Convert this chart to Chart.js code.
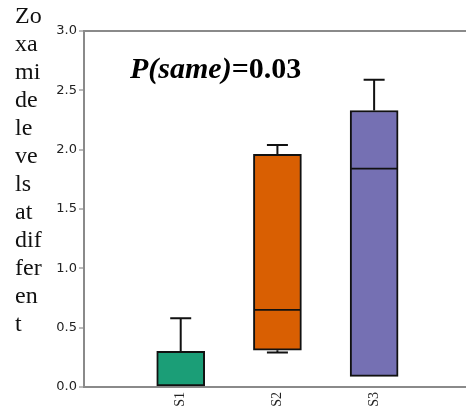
<!DOCTYPE html>
<html>
<head>
<meta charset="utf-8">
<script src="https://cdn.jsdelivr.net/npm/chart.js@4/dist/chart.umd.min.js"></script>
<style>
    html, body { margin: 0; padding: 0; background: #fff; }
    #wrap { position: relative; width: 466px; height: 410px; }
    #yLabel {
        position: absolute; left: 15px; top: 1px;
        font-family: "Liberation Serif", serif; font-size: 24px; line-height: 28px; color: #111;
    }
    #pTitle {
        position: absolute; left: 130px; top: 53px; white-space: nowrap;
        font-family: "Liberation Serif", serif; font-size: 30px; line-height: 30px; font-weight: bold; color: #000;
    }
</style>
</head>
<body>
<div id="wrap">
    <canvas id="boxChart" width="466" height="410"></canvas>
    <div id="yLabel"></div>
    <div id="pTitle"><i>P(same)</i>=0.03</div>
</div>
<script>
// box plot values
var categories = ["S1", "S2", "S3"];
var positions = [1, 2, 3];
var whiskerLow = [0.00, 0.29, 0.09];
var q1 = [0.00, 0.31, 0.09];
var median = [0.00, 0.65, 1.84];
var q3 = [0.30, 1.96, 2.33];
var whiskerHigh = [0.58, 2.04, 2.59];
var boxColors = ["#1b9e77", "#d95f02", "#7570b3"];
var yTicks = [0, 0.5, 1.0, 1.5, 2.0, 2.5, 3.0];
var yLabelLines = ["Zo", "xa", "mi", "de", "le", "ve", "ls", "at", "dif", "fer", "en", "t"];

document.getElementById("yLabel").innerHTML = yLabelLines.join("<br>");

var boxData = [];
for (var i = 0; i < categories.length; i++) {
    boxData.push({ x: positions[i], y: [q1[i], q3[i]] });
}

var whiskerPlugin = {
    id: "whiskers",
    afterDatasetsDraw: function(chart) {
        var ctx = chart.ctx;
        var xs = chart.scales.x;
        var ys = chart.scales.y;
        ctx.save();
        ctx.strokeStyle = "#111";
        for (var i = 0; i < categories.length; i++) {
            var cx = xs.getPixelForValue(positions[i]);
            var half = 23;
            var cap = 10.5;
            // median (skipped when it sits on the box edge)
            if (median[i] > q1[i] && median[i] < q3[i]) {
                ctx.lineWidth = 1.8;
                ctx.beginPath();
                ctx.moveTo(cx - half, ys.getPixelForValue(median[i]));
                ctx.lineTo(cx + half, ys.getPixelForValue(median[i]));
                ctx.stroke();
            }
            // upper whisker
            if (whiskerHigh[i] > q3[i]) {
                ctx.lineWidth = 2;
                ctx.beginPath();
                ctx.moveTo(cx, ys.getPixelForValue(q3[i]));
                ctx.lineTo(cx, ys.getPixelForValue(whiskerHigh[i]));
                ctx.moveTo(cx - cap, ys.getPixelForValue(whiskerHigh[i]));
                ctx.lineTo(cx + cap, ys.getPixelForValue(whiskerHigh[i]));
                ctx.stroke();
            }
            // lower whisker
            if (whiskerLow[i] < q1[i]) {
                ctx.lineWidth = 2;
                ctx.beginPath();
                ctx.moveTo(cx, ys.getPixelForValue(q1[i]));
                ctx.lineTo(cx, ys.getPixelForValue(whiskerLow[i]));
                ctx.moveTo(cx - cap, ys.getPixelForValue(whiskerLow[i]));
                ctx.lineTo(cx + cap, ys.getPixelForValue(whiskerLow[i]));
                ctx.stroke();
            }
        }
        ctx.restore();
    }
};

new Chart(document.getElementById("boxChart").getContext("2d"), {
    type: "bar",
    data: {
        datasets: [{
            label: "Zoxamide",
            data: boxData,
            backgroundColor: boxColors,
            borderColor: "#111",
            borderWidth: 2,
            borderSkipped: false,
            barThickness: 48
        }]
    },
    options: {
        responsive: false,
        animation: false,
        layout: { padding: { top: 31, left: 0, right: 0, bottom: 0 } },
        plugins: { legend: { display: false }, tooltip: { enabled: false } },
        scales: {
            x: {
                type: "linear",
                min: 0,
                max: 3.95,
                offset: false,
                afterFit: function(scale) { scale.height = 23; },
                grid: { display: false, drawTicks: false, offset: false },
                border: { display: true, color: "#8a8a8a", width: 2 },
                afterBuildTicks: function(scale) {
                    scale.ticks = positions.map(function(p) { return { value: p }; });
                },
                ticks: {
                    autoSkip: false,
                    minRotation: 90,
                    maxRotation: 90,
                    padding: 5,
                    color: "#222",
                    font: { family: "Liberation Serif", size: 14 },
                    callback: function(v) { return categories[positions.indexOf(v)] || ""; }
                }
            },
            y: {
                min: 0,
                max: 3,
                afterFit: function(scale) { scale.width = 84; },
                afterBuildTicks: function(scale) {
                    scale.ticks = yTicks.map(function(v) { return { value: v }; });
                },
                grid: {
                    color: function(c) { return c.tick && c.tick.value === 3 ? "#8a8a8a" : "rgba(0,0,0,0)"; },
                    lineWidth: 2,
                    tickColor: "#777",
                    tickWidth: 1,
                    tickLength: 5
                },
                border: { display: true, color: "#8a8a8a", width: 2 },
                ticks: {
                    padding: 2,
                    color: "#222",
                    font: { family: "DejaVu Sans", size: 13 },
                    callback: function(v) { return Number(v).toFixed(1); }
                }
            }
        }
    },
    plugins: [whiskerPlugin]
});
</script>
</body>
</html>
